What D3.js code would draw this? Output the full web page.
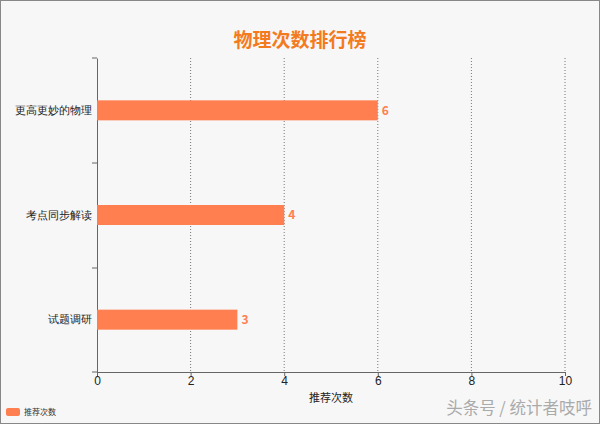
<!DOCTYPE html>
<html><head><meta charset="utf-8">
<script src="https://cdn.jsdelivr.net/npm/d3@7"></script>
<style>body{margin:0;background:#f7f7f7}svg{display:block;font-family:"Noto Sans CJK SC","Noto Sans",sans-serif}</style>
</head><body><svg id="c" width="600" height="424"></svg>
<script>
const categories = ["更高更妙的物理", "考点同步解读", "试题调研"];
const values = [6, 4, 3];
const xTicks = [0, 2, 4, 6, 8, 10];
const barColor = "#ff7f50";

const svg = d3.select("#c");
svg.append("rect").attr("x", 0.5).attr("y", 0.5).attr("width", 599).attr("height", 423)
  .attr("fill", "#f7f7f7").attr("stroke", "#888");

const x = d3.scaleLinear().domain([0, 10]).range([97, 565]);
const y = d3.scaleBand().domain(categories).range([58, 372]);

// grid
svg.append("g").selectAll("line").data(xTicks.slice(1)).join("line")
  .attr("x1", d => x(d)).attr("x2", d => x(d)).attr("y1", 58).attr("y2", 372)
  .attr("stroke", "#777").attr("stroke-dasharray", "1,2");

const xa = svg.append("g").attr("transform", "translate(0,372)")
  .call(d3.axisBottom(x).tickValues(xTicks).tickSize(4));
xa.select(".domain").attr("stroke", "#666");
xa.selectAll(".tick line").attr("stroke", "#666");
xa.selectAll("text").attr("font-size", 12).attr("fill", "#222").attr("dy", "0.9em").attr("y", 2);

const ya = svg.append("g").attr("transform", "translate(97,0)")
  .call(d3.axisLeft(y).tickSize(0).tickPadding(5));
ya.select(".domain").attr("stroke", "#666");
ya.selectAll("text").attr("font-size", 11).attr("fill", "#222");
svg.append("g").selectAll("line").data([58, 163, 268, 372]).join("line")
  .attr("x1", 92).attr("x2", 97).attr("y1", d => d).attr("y2", d => d).attr("stroke", "#666");

const bh = 20;
svg.append("g").selectAll("rect").data(values).join("rect")
  .attr("x", x(0)).attr("y", (d, i) => y(categories[i]) + y.bandwidth() / 2 - bh / 2)
  .attr("width", d => x(d) - x(0)).attr("height", bh).attr("fill", barColor);
svg.append("g").selectAll("text").data(values).join("text")
  .attr("x", d => x(d) + 4).attr("y", (d, i) => y(categories[i]) + y.bandwidth() / 2)
  .attr("dy", "0.35em").attr("font-size", 12).attr("font-weight", "bold").attr("fill", barColor).text(d => d);

svg.append("text").attr("x", 300).attr("y", 47).attr("text-anchor", "middle")
  .attr("font-size", 19).attr("font-weight", "bold").attr("fill", "#f47a20").text("物理次数排行榜");
svg.append("text").attr("x", 331).attr("y", 402).attr("text-anchor", "middle")
  .attr("font-size", 11).attr("fill", "#222").text("推荐次数");

svg.append("rect").attr("x", 6).attr("y", 408).attr("width", 14).attr("height", 8).attr("rx", 2).attr("fill", barColor);
svg.append("text").attr("x", 24).attr("y", 415).attr("font-size", 8).attr("fill", "#333").text("推荐次数");
svg.append("text").attr("x", 592).attr("y", 414).attr("text-anchor", "end")
  .attr("font-size", 16.5).attr("fill", "#aaa").text("头条号 / 统计者吱呼");
</script></body></html>
